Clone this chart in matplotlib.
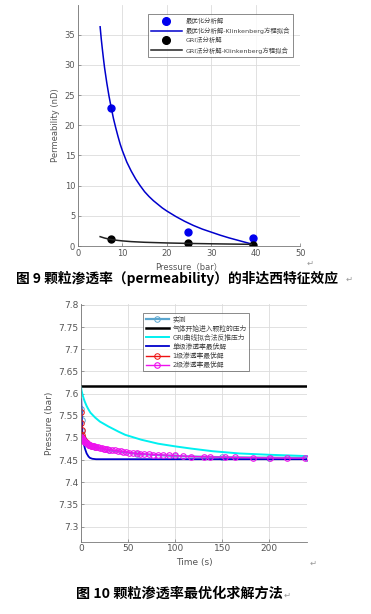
import matplotlib.pyplot as plt

plt.rcParams['font.family'] = ['DejaVu Sans', 'Noto Sans CJK SC']

# ---- 图 9 data ----
p_opt = [7.5, 24.85, 39.3]
k_opt = [22.9, 2.4, 1.3]
p_fit = [5, 5.25, 5.5, 5.75, 6, 6.5, 7, 7.5, 8, 8.5, 9, 9.5, 10, 11, 12, 13,
         14, 15, 16, 17, 18, 19, 20, 22, 24, 26, 28, 30, 32, 34, 36, 38, 39]
k_fit = [36.3, 34.3, 32.6, 31.0, 29.5, 27.0, 24.8, 22.9, 21.1, 19.6, 18.2,
         16.9, 15.8, 13.9, 12.4, 11.1, 10.0, 9.0, 8.2, 7.5, 6.9, 6.3, 5.8,
         4.9, 4.1, 3.4, 2.8, 2.3, 1.8, 1.35, 0.95, 0.55, 0.35]
p_gri = [7.5, 24.85, 39.3]
k_gri = [1.1, 0.45, 0.25]
p_gri_fit = [5, 6, 7, 8, 9, 10, 12, 15, 20, 25, 30, 35, 39]
k_gri_fit = [1.55, 1.32, 1.15, 1.02, 0.93, 0.85, 0.73, 0.62, 0.51, 0.43,
             0.37, 0.32, 0.28]

# ---- 图 10 data ----
t_meas = [0.3, 0.6, 1, 2, 4, 8, 15, 30, 60, 100, 150, 200, 240]
pr_meas = [7.565, 7.54, 7.515, 7.5, 7.49, 7.484, 7.479, 7.472, 7.464, 7.459,
           7.4565, 7.4555, 7.455]
t_start = [0, 240]
pr_start = [7.618, 7.618]
t_gricurve = [0, 0.5, 1, 2, 3, 4, 6, 8, 10, 15, 20, 29, 40, 47, 64, 82, 100,
              117, 140, 168, 200, 221, 240]
pr_gricurve = [7.615, 7.608, 7.603, 7.595, 7.588, 7.582, 7.572, 7.564,
               7.557, 7.546, 7.537, 7.526, 7.514, 7.507, 7.496, 7.487, 7.481,
               7.476, 7.470, 7.465, 7.462, 7.4605, 7.459]
t_single = [0.3, 0.5, 0.8, 1.2, 2, 3, 4.2, 6, 8, 9.5, 12, 16, 240]
pr_single = [7.587, 7.57, 7.545, 7.52, 7.5, 7.487, 7.476, 7.465, 7.458,
             7.455, 7.453, 7.452, 7.452]
t_one = [0.3, 0.5, 0.7, 0.9, 1.2, 1.6, 2, 3, 5, 8, 12]
pr_one = [7.558, 7.533, 7.517, 7.506, 7.502, 7.5, 7.498, 7.495, 7.49,
          7.485, 7.482]
t_two = [0.5, 1, 1.5, 2, 2.5, 3, 4, 5, 6, 7, 8, 9, 10, 11, 12, 13, 14, 15,
         16, 18, 20, 22, 24, 26, 28, 30, 33, 36, 39, 42, 45, 48, 51, 55, 59,
         63, 67, 72, 77, 82, 87, 93, 100, 108, 117, 131, 137, 153, 164, 183,
         201, 219, 238]
pr_two = [7.503, 7.5, 7.498, 7.496, 7.494, 7.493, 7.491, 7.489, 7.488, 7.486,
          7.485, 7.484, 7.483, 7.482, 7.482, 7.481, 7.481, 7.48, 7.48, 7.479,
          7.478, 7.477, 7.476, 7.475, 7.474, 7.4735, 7.473, 7.472, 7.471,
          7.47, 7.469, 7.468, 7.467, 7.466, 7.465, 7.4645, 7.464, 7.463,
          7.4625, 7.462, 7.4615, 7.461, 7.4605, 7.459, 7.458, 7.4575, 7.457,
          7.4565, 7.456, 7.4555, 7.455, 7.4545, 7.4545]

fig = plt.figure(figsize=(3.71, 6.14), dpi=100)
grid_kw = dict(color='#dcdcdc', linewidth=0.6)
tick_color = '#555555'
cjk = ['Noto Sans CJK SC', 'DejaVu Sans']


def style(ax):
    for s in ['top', 'right']:
        ax.spines[s].set_visible(False)
    for s in ['left', 'bottom']:
        ax.spines[s].set_color('#777777')
        ax.spines[s].set_linewidth(0.6)
    ax.tick_params(direction='in', length=2, width=0.5, colors='#777777',
                   labelcolor=tick_color, labelsize=6, pad=2)
    ax.grid(True, **grid_kw)
    ax.set_axisbelow(True)


# top chart
ax1 = fig.add_axes([0.210, 0.5993, 0.599, 0.3925])
ax1.plot(p_opt, k_opt, 'o', color='#0000ee', markersize=5, label='最优化分析解')
ax1.plot(p_fit, k_fit, '-', color='#0000cc', linewidth=1.1,
         label='最优化分析解-Klinkenberg方程拟合')
ax1.plot(p_gri, k_gri, 'o', color='black', markersize=5, label='GRI法分析解')
ax1.plot(p_gri_fit, k_gri_fit, '-', color='#222222', linewidth=1.1,
         label='GRI法分析解-Klinkenberg方程拟合')
ax1.set_xlim(0, 50)
ax1.set_ylim(0, 39.9)
ax1.set_xticks([0, 10, 20, 30, 40, 50])
ax1.set_yticks([0, 5, 10, 15, 20, 25, 30, 35])
style(ax1)
ax1.set_xlabel('Pressure（bar）', fontsize=6, color=tick_color, labelpad=3)
ax1.set_ylabel('Permeability (nD)', fontsize=6, color=tick_color, labelpad=3)
leg1 = ax1.legend(loc='upper left', bbox_to_anchor=(0.3, 0.975),
                  fontsize=4.6, frameon=True, fancybox=False, handlelength=4.8,
                  borderpad=0.5, labelspacing=0.5, handletextpad=0.6,
                  markerscale=1.1)
leg1.get_frame().set_edgecolor('#555555')
leg1.get_frame().set_linewidth(0.6)
for txt in leg1.get_texts():
    txt.set_color('#444444')

# bottom chart
ax2 = fig.add_axes([0.2183, 0.1178, 0.609, 0.387])
ax2.plot(t_meas, pr_meas, '-o', color='#5aa6cf', markersize=4, linewidth=1.6,
         markerfacecolor='none', markeredgewidth=0.7, label='实测')
ax2.plot(t_start, pr_start, '-', color='black', linewidth=1.8,
         label='气体开始进入颗粒的压力')
ax2.plot(t_gricurve, pr_gricurve, '-', color='#00f0f0', linewidth=1.4,
         label='GRI曲线拟合法反推压力')
ax2.plot(t_single, pr_single, '-', color='#0000cc', linewidth=1.3,
         label='单级渗透率最优解')
ax2.plot(t_one, pr_one, '-o', color='#ee1111', markersize=4, linewidth=1.0,
         markerfacecolor='none', markeredgewidth=0.7, label='1级渗透率最优解')
ax2.plot(t_two, pr_two, '-o', color='#ee11ee', markersize=4, linewidth=1.0,
         markerfacecolor='none', markeredgewidth=0.8, label='2级渗透率最优解')
ax2.set_xlim(0, 240)
ax2.set_ylim(7.266, 7.802)
ax2.set_xticks([0, 50, 100, 150, 200])
ax2.set_yticks([7.3, 7.35, 7.4, 7.45, 7.5, 7.55, 7.6, 7.65, 7.7, 7.75, 7.8])
ax2.set_yticklabels(['7.3', '7.35', '7.4', '7.45', '7.5', '7.55', '7.6',
                     '7.65', '7.7', '7.75', '7.8'])
style(ax2)
ax2.tick_params(labelsize=6.5)
ax2.set_xlabel('Time (s)', fontsize=6.5, color=tick_color, labelpad=3)
ax2.set_ylabel('Pressure (bar)', fontsize=6.5, color=tick_color, labelpad=3)
leg2 = ax2.legend(loc='upper left', bbox_to_anchor=(0.26, 0.975),
                  fontsize=4.9, frameon=True, fancybox=False, handlelength=3.5,
                  borderpad=0.35, labelspacing=0.3, handletextpad=0.5)
leg2.get_frame().set_edgecolor('#555555')
leg2.get_frame().set_linewidth(0.6)
for txt in leg2.get_texts():
    txt.set_color('#444444')

# captions and paragraph marks
fig.text(177 / 371, 1 - 278 / 614, '图 9 颗粒渗透率（permeability）的非达西特征效应',
         ha='center', va='center', fontsize=9.9, fontweight='bold',
         family=cjk)
fig.text(179 / 371, 1 - 594 / 614, '图 10 颗粒渗透率最优化求解方法',
         ha='center', va='center', fontsize=10.2, fontweight='bold',
         family=cjk)
for xm, ym in [(310, 263), (313, 563), (349, 279), (287, 595)]:
    fig.text(xm / 371, 1 - ym / 614, '↵', ha='center', va='center',
             fontsize=6, color='#999999')

fig.savefig('out.png', dpi=100, facecolor='white')
